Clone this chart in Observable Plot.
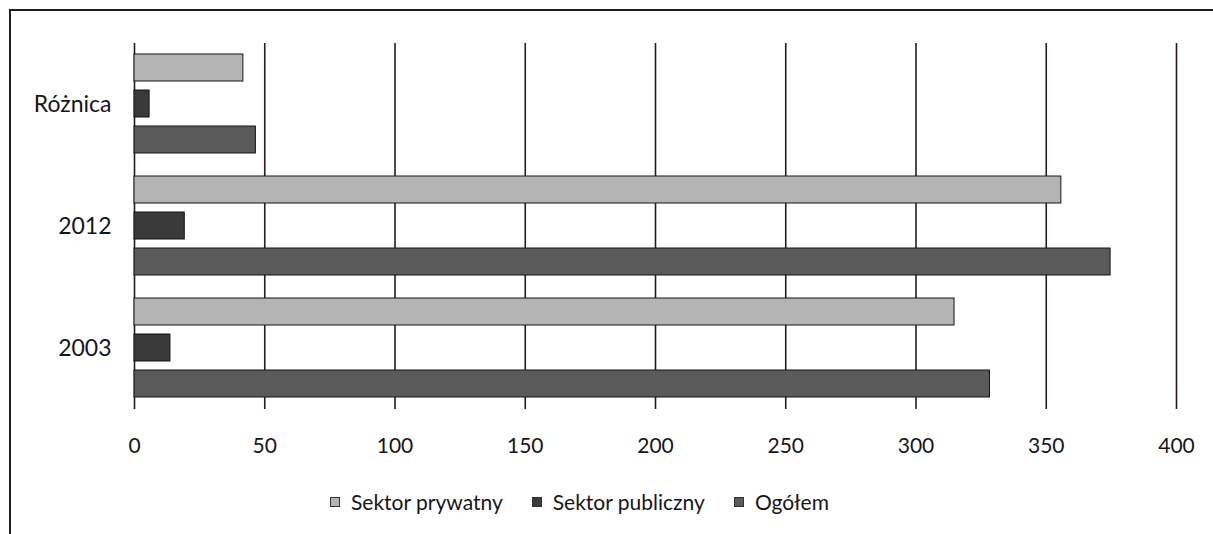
<!DOCTYPE html>
<html>
<head>
<meta charset="utf-8">
<script src="https://cdn.jsdelivr.net/npm/d3@7"></script>
<script src="https://cdn.jsdelivr.net/npm/@observablehq/plot@0.6"></script>
<style>
  html, body { margin: 0; padding: 0; background: #fff; }
  #wrap { position: relative; width: 1213px; height: 534px; overflow: hidden; font-family: Lato, "Noto Sans", sans-serif; }
  #frame { position: absolute; left: 9px; top: 9px; width: 1210px; height: 530px; border-top: 2px solid #1e1e1e; border-left: 2px solid #1e1e1e; }
  #chart { position: absolute; left: 0; top: 0; }
  #legend { position: absolute; left: 330px; top: 489px; display: flex; align-items: center; font-size: 21px; color: #161616; white-space: nowrap; }
  #legend .item { display: flex; align-items: center; }
  #legend .sw { width: 10px; height: 10px; border: 1px solid #333; margin-right: 11px; box-sizing: border-box; }
</style>
</head>
<body>
<div id="wrap">
  <div id="frame"></div>
  <div id="chart"></div>
  <div id="legend"></div>
</div>
<script>
const categories = ["Różnica", "2012", "2003"];
const seriesNames = ["Sektor prywatny", "Sektor publiczny", "Ogółem"];
const prywatny = [41.8, 355.8, 314.8];
const publiczny = [5.8, 19.3, 13.8];
const ogolem = [46.6, 374.7, 328.4];
const xTicks = [0, 50, 100, 150, 200, 250, 300, 350, 400];
const colors = ["#b4b4b4", "#3a3a3a", "#5a5a5a"];

const seriesValues = [prywatny, publiczny, ogolem];
const data = [];
categories.forEach((c, i) => {
  seriesNames.forEach((s, j) => {
    data.push({category: c, series: s, value: seriesValues[j][i]});
  });
});

const chart = Plot.plot({
  width: 1213,
  height: 470,
  marginLeft: 134,
  marginRight: 37,
  marginTop: 42,
  marginBottom: 61,
  style: {fontFamily: "Lato, 'Noto Sans', sans-serif", fontSize: "21px", color: "#161616", background: "transparent"},
  x: {domain: [0, 400], label: null},
  fy: {domain: categories, padding: 0, label: null},
  y: {domain: seriesNames, axis: null, paddingInner: 0.24, paddingOuter: 0.29},
  color: {domain: seriesNames, range: colors},
  marks: [
    Plot.gridX(xTicks, {stroke: "#2a1a1f", strokeOpacity: 1, strokeWidth: 1.6}),
    Plot.barX(data, {fy: "category", y: "series", x: "value", fill: "series", stroke: "#151515", strokeWidth: 1}),
    Plot.axisX(xTicks, {anchor: "bottom", tickSize: 0, tickPadding: 29, fontSize: 21, label: null}),
    Plot.axisFy({anchor: "left", tickSize: 0, tickPadding: 23, fontSize: 23, label: null})
  ]
});
document.getElementById("chart").appendChild(chart);

const legend = document.getElementById("legend");
const gaps = [29, 29, 0];
seriesNames.forEach((s, j) => {
  const item = document.createElement("div");
  item.className = "item";
  item.style.marginRight = gaps[j] + "px";
  const sw = document.createElement("div");
  sw.className = "sw";
  sw.style.background = colors[j];
  const t = document.createElement("span");
  t.textContent = s;
  item.appendChild(sw);
  item.appendChild(t);
  legend.appendChild(item);
});
</script>
</body>
</html>
